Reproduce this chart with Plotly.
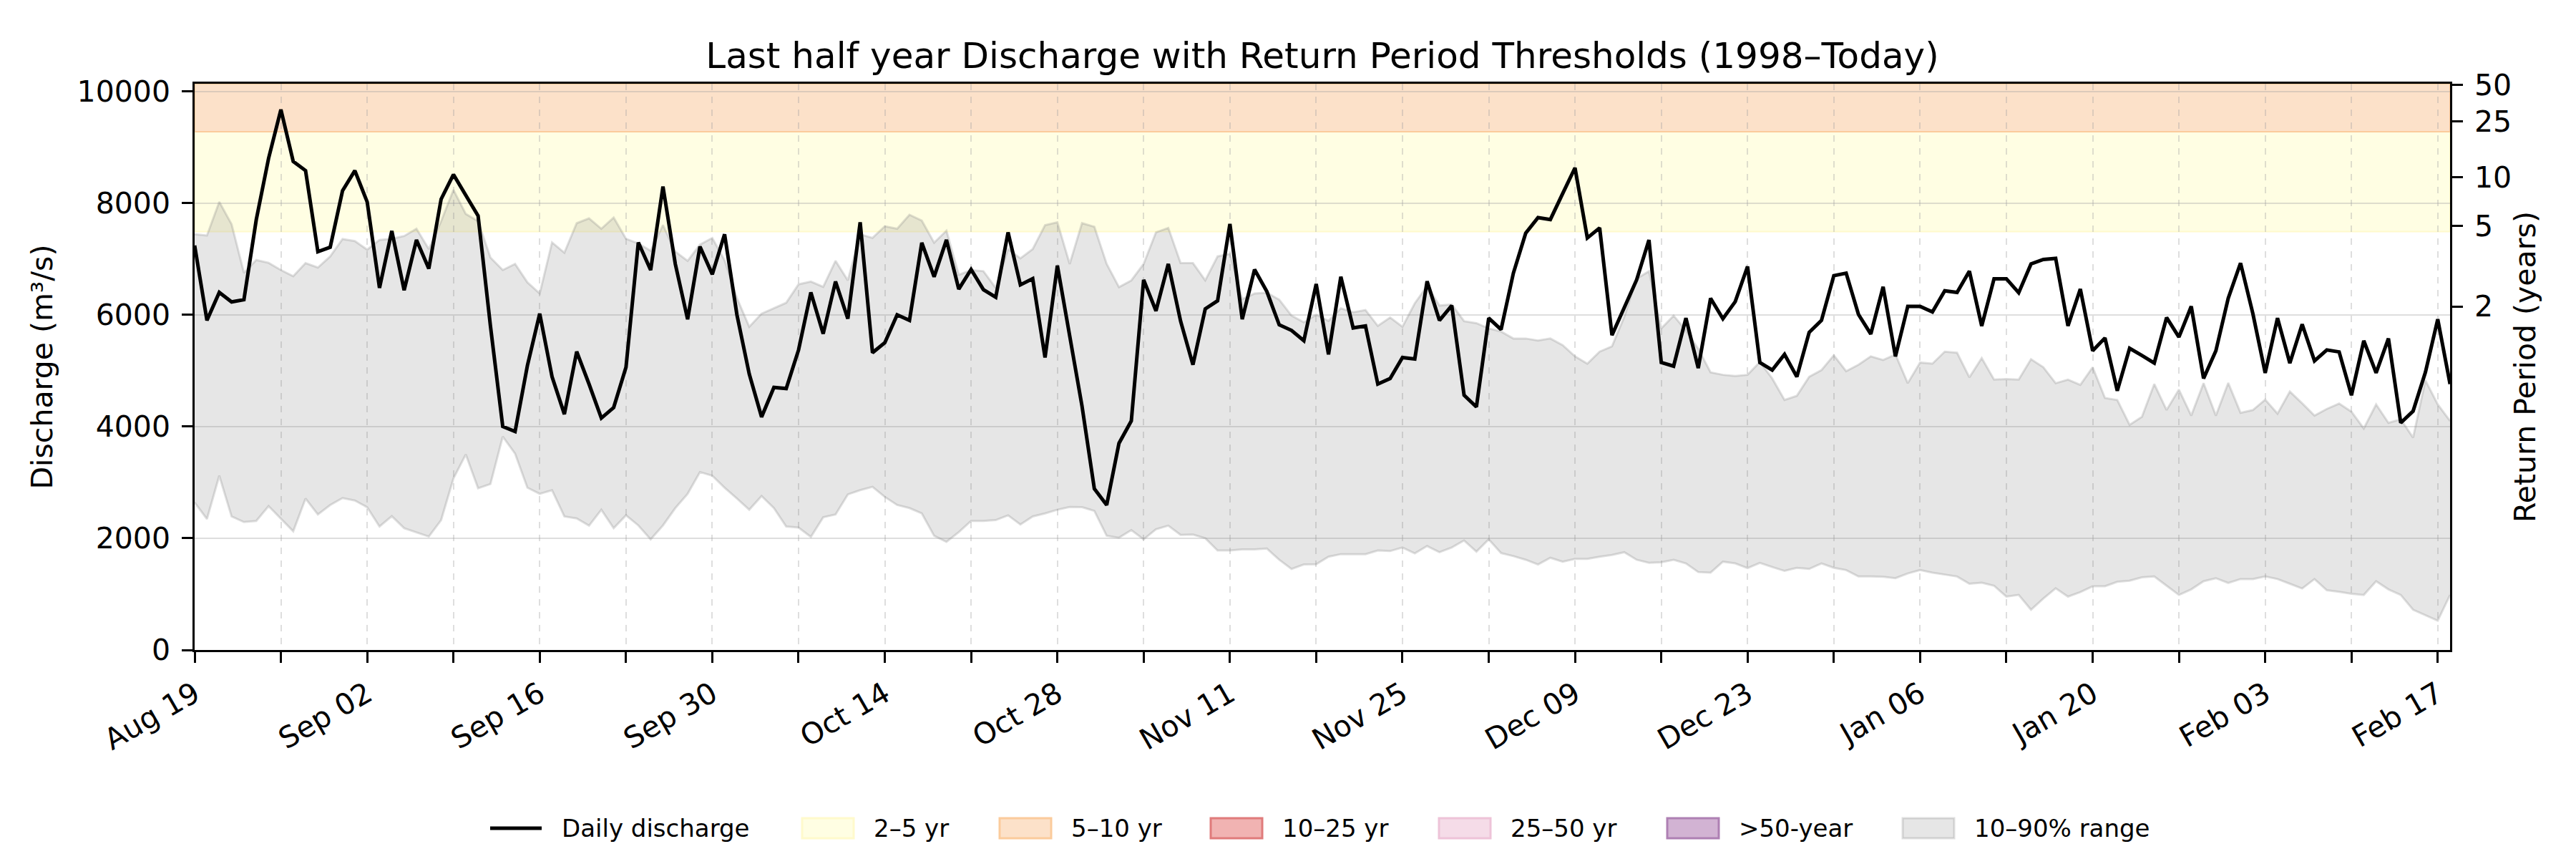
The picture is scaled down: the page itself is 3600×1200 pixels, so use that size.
import pandas as pd
import plotly.graph_objects as go

# Daily series, 2024-08-19 .. 2025-02-18
dates = pd.date_range("2024-08-19", periods=184, freq="D")

discharge = [
    7240, 5900, 6400, 6230, 6270, 7700, 8800, 9672, 8745, 8580,
    7130, 7210, 8220, 8580, 8020, 6480, 7500, 6440, 7340, 6825,
    8070, 8510, 8140, 7770, 5800, 4000, 3910, 5090, 6020, 4890,
    4220, 5340, 4760, 4150, 4340, 5060, 7295, 6800, 8295, 6910,
    5920, 7220, 6725, 7440, 6000, 4940, 4170, 4700, 4680, 5370,
    6400, 5660, 6595, 5930, 7655, 5320, 5500, 6000, 5900, 7290,
    6680, 7340, 6460, 6810, 6450, 6315, 7475, 6535, 6645, 5235,
    6880, 5620, 4365, 2885, 2595, 3700, 4100, 6625, 6070, 6910,
    5885, 5105, 6105, 6250, 7625, 5920, 6810, 6415, 5820, 5720,
    5535, 6550, 5290, 6680, 5765, 5800, 4760, 4860, 5235, 5210,
    6600, 5900, 6165, 4560, 4350, 5940, 5735, 6745, 7460, 7740,
    7705, 8170, 8630, 7375, 7555, 5635, 6150, 6625, 7340, 5145,
    5080, 5940, 5045, 6295, 5930, 6235, 6865, 5145, 5010, 5290,
    4890, 5685, 5900, 6700, 6745, 6005, 5655, 6500, 5255, 6150,
    6150, 6050, 6430, 6400, 6780, 5800, 6645, 6645, 6395, 6910,
    6990, 7010, 5800, 6460, 5355, 5585, 4640, 5400, 5270, 5135,
    5950, 5600, 6150, 4860, 5355, 6295, 6925, 6020, 4960, 5940,
    5135, 5830, 5175, 5370, 5335, 4560, 5535, 4960, 5575, 4065,
    4275, 4970, 5920, 4760,
]

# 90th percentile of the 1998-today climatology for each calendar day
p90 = [
    7440, 7420, 8020, 7620, 6750, 6980, 6930, 6800, 6690, 6925,
    6845, 7045, 7355, 7320, 7165, 7340, 7360, 7410, 7540, 7175,
    7675, 8235, 7805, 7675, 7025, 6800, 6910, 6580, 6380, 7295,
    7110, 7640, 7725, 7540, 7740, 7360, 7275, 7145, 7605, 7130,
    6965, 7255, 7375, 6975, 6300, 5785, 6020, 6120, 6215, 6545,
    6595, 6500, 6965, 6615, 7440, 7375, 7585, 7540, 7790, 7685,
    7290, 7505, 6715, 6800, 6780, 6480, 7175, 7010, 7175, 7605,
    7655, 6910, 7640, 7575, 6910, 6495, 6615, 6910, 7475, 7555,
    6925, 6925, 6615, 7045, 7090, 6280, 6380, 6395, 6270, 5985,
    5865, 6000, 5890, 6115, 6045, 6085, 5800, 5950, 5785, 6205,
    6515, 6165, 6185, 5885, 5850, 5755, 5700, 5575, 5575, 5540,
    5575, 5455, 5255, 5125, 5340, 5435, 5965, 6645, 6780, 5755,
    5985, 5720, 5390, 4970, 4925, 4905, 4925, 5155, 4860, 4475,
    4550, 4890, 5010, 5275, 4990, 5105, 5255, 5190, 5290, 4775,
    5145, 5125, 5340, 5320, 4880, 5225, 4840, 4850, 4840, 5205,
    5060, 4775, 4840, 4745, 5060, 4510, 4475, 4030, 4175, 4760,
    4295, 4660, 4195, 4775, 4195, 4780, 4245, 4295, 4480, 4230,
    4625, 4415, 4195, 4315, 4410, 4265, 3965, 4395, 4065, 4130,
    3800, 4825, 4395, 4100,
]

# 10th percentile
p10 = [
    2640, 2345, 3120, 2390, 2290, 2310, 2575, 2345, 2125, 2710,
    2425, 2595, 2720, 2675, 2555, 2210, 2395, 2180, 2100, 2030,
    2325, 3070, 3500, 2895, 2970, 3820, 3515, 2905, 2795, 2860,
    2390, 2355, 2225, 2510, 2180, 2410, 2230, 1980, 2230, 2540,
    2795, 3185, 3120, 2905, 2710, 2510, 2755, 2540, 2210, 2190,
    2025, 2375, 2425, 2785, 2860, 2920, 2740, 2595, 2540, 2445,
    2045, 1935, 2110, 2310, 2310, 2325, 2410, 2245, 2390, 2445,
    2510, 2560, 2555, 2490, 2045, 2010, 2145, 1980, 2160, 2225,
    2060, 2065, 2000, 1780, 1780, 1800, 1800, 1815, 1615, 1450,
    1530, 1535, 1670, 1715, 1715, 1715, 1780, 1770, 1835, 1730,
    1860, 1750, 1835, 1960, 1760, 1980, 1735, 1680, 1615, 1530,
    1650, 1580, 1630, 1630, 1670, 1700, 1750, 1615, 1560, 1570,
    1615, 1550, 1395, 1385, 1580, 1550, 1465, 1560, 1485, 1415,
    1470, 1450, 1550, 1470, 1430, 1315, 1315, 1310, 1285, 1370,
    1430, 1385, 1350, 1315, 1185, 1205, 1150, 955, 985, 720,
    920, 1105, 955, 1035, 1140, 1140, 1220, 1240, 1300, 1315,
    1150, 985, 1085, 1230, 1285, 1200, 1270, 1270, 1315, 1270,
    1185, 1100, 1270, 1070, 1040, 1005, 985, 1230, 1085, 985,
    720, 620, 525, 985,
]

# Return period thresholds (m3/s) and the right-hand axis labels
rp_band_names = ["2–5 yr", "5–10 yr", "10–25 yr", "25–50 yr", ">50-year"]
rp_band_low = [7490, 9278]
rp_band_high = [9278, 10135]
rp_tick_years = ["2", "5", "10", "25", "50"]
rp_tick_discharge = [6149, 7593, 8463, 9457, 10115]

y_max = 10135
FONT = "DejaVu Sans"

band_fill = ["#FFFEE3", "#FCE1C9", "#F1B3B2", "#F5DCE8", "#D2B3D3"]
band_edge = ["#FFFACC", "#FBCB9C", "#E07B7B", "#EEC3D8", "#AE80B3"]
range_fill = "rgba(128,128,128,0.2)"
range_edge = "rgba(128,128,128,0.25)"

# figure geometry (px) used for the hand-made legend row
W, H = 3600, 1200
M_L, M_R, M_T, M_B = 264, 184, 109, 300
legend_left_px = [677, 1113, 1389, 1684, 2003, 2322, 2651]
legend_mid_px = 1149


def px_to_paper(x_px, y_px):
    pw = W - M_L - M_R
    ph = H - M_T - M_B
    return (x_px - M_L) / pw, (H - M_B - y_px) / ph


fig = go.Figure()

# 10-90% climatology envelope
fig.add_trace(go.Scatter(x=dates, y=p10, mode="lines",
                         line=dict(color=range_edge, width=3),
                         showlegend=False, hoverinfo="skip"))
fig.add_trace(go.Scatter(x=dates, y=p90, mode="lines", fill="tonexty",
                         fillcolor=range_fill,
                         line=dict(color=range_edge, width=3),
                         name="10–90% range", showlegend=False))

# observed discharge
fig.add_trace(go.Scatter(x=dates, y=discharge, mode="lines",
                         line=dict(color="black", width=5),
                         name="Daily discharge", showlegend=False))

# return period bands (only the visible ones get a shape)
for lo, hi, fc, ec in zip(rp_band_low, rp_band_high, band_fill, band_edge):
    fig.add_hrect(y0=lo, y1=hi, fillcolor=fc, line=dict(color=ec, width=2),
                  layer="below")

# dummy trace so the right axis is drawn
fig.add_trace(go.Scatter(x=[None], y=[None], yaxis="y2", showlegend=False))

# legend row below the plot, matplotlib style patches
legend_names = ["Daily discharge"] + rp_band_names + ["10–90% range"]
legend_fill = [None] + band_fill + [range_fill]
legend_edge = ["black"] + band_edge + [range_edge]
for name, left, fc, ec in zip(legend_names, legend_left_px, legend_fill, legend_edge):
    x0, ym = px_to_paper(left, legend_mid_px)
    x1, _ = px_to_paper(left + 72, legend_mid_px)
    xt, _ = px_to_paper(left + 98, legend_mid_px)
    if fc is None:
        fig.add_shape(type="line", xref="paper", yref="paper",
                      x0=x0, x1=x1, y0=ym, y1=ym,
                      line=dict(color=ec, width=5))
    else:
        _, y0 = px_to_paper(left, legend_mid_px + 14)
        _, y1 = px_to_paper(left, legend_mid_px - 14)
        fig.add_shape(type="rect", xref="paper", yref="paper",
                      x0=x0, x1=x1, y0=y0, y1=y1,
                      fillcolor=fc, line=dict(color=ec, width=3))
    fig.add_annotation(text=name, xref="paper", yref="paper", x=xt, y=ym,
                       xanchor="left", yanchor="middle", showarrow=False,
                       font=dict(size=34, family=FONT, color="black"))

# weekly ticks, label every second one
week_ticks = pd.date_range("2024-08-19", "2025-02-17", freq="7D")
week_labels = [d.strftime("%b %d") if i % 2 == 0 else "" for i, d in enumerate(week_ticks)]

axis_common = dict(showline=True, linecolor="black", linewidth=2.5,
                   ticks="outside", ticklen=15, tickwidth=2.5, tickcolor="black",
                   tickfont=dict(size=41, color="black", family=FONT))

fig.update_layout(
    width=W, height=H,
    margin=dict(l=M_L, r=M_R, t=M_T, b=M_B),
    paper_bgcolor="white", plot_bgcolor="white",
    font=dict(family=FONT, color="black"),
    title=dict(text="Last half year Discharge with Return Period Thresholds (1998–Today)",
               x=0.5, xref="paper", xanchor="center",
               y=1 - 69 / H, yanchor="middle",
               font=dict(size=50, family=FONT, color="black")),
    xaxis=dict(type="date", range=["2024-08-19", "2025-02-18"],
               tickvals=week_ticks, ticktext=week_labels, tickangle=-30,
               showgrid=True, gridcolor="rgba(160,160,160,0.35)", gridwidth=2,
               griddash="dash", mirror=True, ticklabelstandoff=4,
               **axis_common),
    yaxis=dict(range=[0, y_max], dtick=2000, tickformat="d", showgrid=True,
               gridcolor="rgba(160,160,160,0.35)", gridwidth=2,
               zeroline=False, mirror=True, ticklabelstandoff=8,
               title=dict(text="Discharge (m³/s)", standoff=22,
                          font=dict(size=41, family=FONT, color="black")),
               **axis_common),
    yaxis2=dict(overlaying="y", side="right", range=[0, y_max],
                tickvals=rp_tick_discharge, ticktext=rp_tick_years,
                showgrid=False, zeroline=False, ticklabelstandoff=8,
                title=dict(text="Return Period (years)", standoff=6,
                           font=dict(size=41, family=FONT, color="black")),
                **axis_common),
    showlegend=False,
)

fig.write_html("out.html")
